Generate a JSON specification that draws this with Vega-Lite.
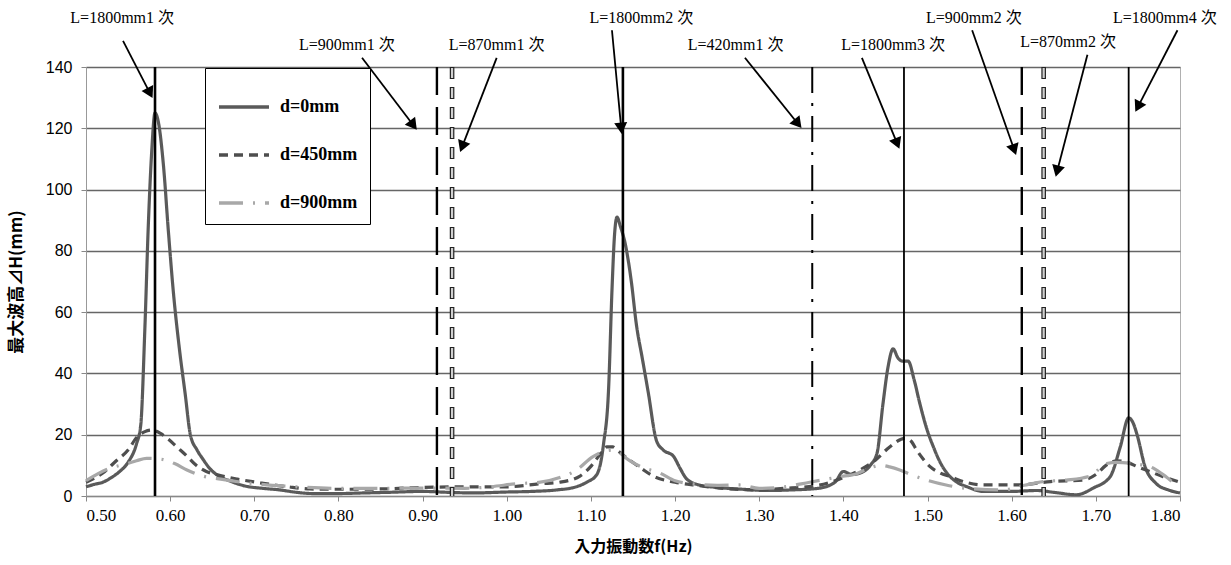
{
  "$schema": "https://vega.github.io/schema/vega-lite/v6.json",
  "width": 1094,
  "height": 429,
  "autosize": {"type": "none"},
  "padding": {"left": 86, "top": 67, "right": 51, "bottom": 69},
  "background": "white",
  "config": {
    "view": {"stroke": "#b0b0b0", "strokeWidth": 1},
    "legend": {
      "orient": "none",
      "legendX": 119,
      "legendY": 1,
      "fillColor": "white",
      "strokeColor": "black",
      "padding": 12,
      "symbolType": "stroke",
      "symbolSize": 2500,
      "symbolStrokeWidth": 3.5,
      "labelFont": "Liberation Serif",
      "labelFontSize": 18,
      "labelFontWeight": "bold",
      "labelColor": "black",
      "rowPadding": 12,
      "labelOffset": 9
    }
  },
  "datasets": {
    "curves": [
      {"f": 0.50, "h": 3.0, "s": "d=0mm"}, {"f": 0.51, "h": 3.8, "s": "d=0mm"}, {"f": 0.52, "h": 4.5, "s": "d=0mm"}, {"f": 0.53, "h": 6, "s": "d=0mm"}, {"f": 0.54, "h": 8, "s": "d=0mm"}, {"f": 0.55, "h": 11, "s": "d=0mm"}, {"f": 0.56, "h": 17, "s": "d=0mm"}, {"f": 0.565, "h": 23, "s": "d=0mm"}, {"f": 0.570, "h": 55, "s": "d=0mm"}, {"f": 0.574, "h": 88, "s": "d=0mm"}, {"f": 0.578, "h": 112, "s": "d=0mm"}, {"f": 0.582, "h": 125, "s": "d=0mm"}, {"f": 0.586, "h": 122, "s": "d=0mm"}, {"f": 0.592, "h": 108, "s": "d=0mm"}, {"f": 0.598, "h": 86, "s": "d=0mm"}, {"f": 0.604, "h": 66, "s": "d=0mm"}, {"f": 0.611, "h": 48, "s": "d=0mm"}, {"f": 0.618, "h": 33, "s": "d=0mm"}, {"f": 0.624, "h": 20, "s": "d=0mm"}, {"f": 0.632, "h": 15, "s": "d=0mm"}, {"f": 0.639, "h": 12, "s": "d=0mm"}, {"f": 0.647, "h": 9, "s": "d=0mm"}, {"f": 0.655, "h": 7, "s": "d=0mm"}, {"f": 0.67, "h": 5, "s": "d=0mm"}, {"f": 0.69, "h": 3.2, "s": "d=0mm"}, {"f": 0.71, "h": 2.5, "s": "d=0mm"}, {"f": 0.73, "h": 2, "s": "d=0mm"}, {"f": 0.75, "h": 1.2, "s": "d=0mm"}, {"f": 0.77, "h": 0.8, "s": "d=0mm"}, {"f": 0.80, "h": 0.8, "s": "d=0mm"}, {"f": 0.83, "h": 1, "s": "d=0mm"}, {"f": 0.86, "h": 1.2, "s": "d=0mm"}, {"f": 0.90, "h": 1.5, "s": "d=0mm"}, {"f": 0.93, "h": 1.2, "s": "d=0mm"}, {"f": 0.96, "h": 1.0, "s": "d=0mm"}, {"f": 1.00, "h": 1.3, "s": "d=0mm"}, {"f": 1.03, "h": 1.5, "s": "d=0mm"}, {"f": 1.06, "h": 2, "s": "d=0mm"}, {"f": 1.08, "h": 2.8, "s": "d=0mm"}, {"f": 1.095, "h": 4.5, "s": "d=0mm"}, {"f": 1.107, "h": 7, "s": "d=0mm"}, {"f": 1.115, "h": 17, "s": "d=0mm"}, {"f": 1.121, "h": 35, "s": "d=0mm"}, {"f": 1.125, "h": 67, "s": "d=0mm"}, {"f": 1.128, "h": 85, "s": "d=0mm"}, {"f": 1.131, "h": 91, "s": "d=0mm"}, {"f": 1.135, "h": 88, "s": "d=0mm"}, {"f": 1.141, "h": 82, "s": "d=0mm"}, {"f": 1.148, "h": 70, "s": "d=0mm"}, {"f": 1.154, "h": 56, "s": "d=0mm"}, {"f": 1.161, "h": 45, "s": "d=0mm"}, {"f": 1.168, "h": 34, "s": "d=0mm"}, {"f": 1.178, "h": 18, "s": "d=0mm"}, {"f": 1.186, "h": 15, "s": "d=0mm"}, {"f": 1.198, "h": 13, "s": "d=0mm"}, {"f": 1.206, "h": 9, "s": "d=0mm"}, {"f": 1.214, "h": 5.5, "s": "d=0mm"}, {"f": 1.23, "h": 3.5, "s": "d=0mm"}, {"f": 1.25, "h": 2.8, "s": "d=0mm"}, {"f": 1.28, "h": 2.2, "s": "d=0mm"}, {"f": 1.31, "h": 1.8, "s": "d=0mm"}, {"f": 1.34, "h": 2, "s": "d=0mm"}, {"f": 1.37, "h": 2.5, "s": "d=0mm"}, {"f": 1.39, "h": 4.5, "s": "d=0mm"}, {"f": 1.40, "h": 8, "s": "d=0mm"}, {"f": 1.41, "h": 7, "s": "d=0mm"}, {"f": 1.42, "h": 7.5, "s": "d=0mm"}, {"f": 1.432, "h": 10, "s": "d=0mm"}, {"f": 1.440, "h": 14, "s": "d=0mm"}, {"f": 1.447, "h": 30, "s": "d=0mm"}, {"f": 1.453, "h": 42, "s": "d=0mm"}, {"f": 1.459, "h": 48, "s": "d=0mm"}, {"f": 1.465, "h": 45, "s": "d=0mm"}, {"f": 1.470, "h": 44, "s": "d=0mm"}, {"f": 1.477, "h": 44, "s": "d=0mm"}, {"f": 1.484, "h": 38, "s": "d=0mm"}, {"f": 1.491, "h": 30, "s": "d=0mm"}, {"f": 1.499, "h": 22, "s": "d=0mm"}, {"f": 1.507, "h": 16, "s": "d=0mm"}, {"f": 1.515, "h": 11, "s": "d=0mm"}, {"f": 1.523, "h": 7.5, "s": "d=0mm"}, {"f": 1.535, "h": 4.5, "s": "d=0mm"}, {"f": 1.547, "h": 3, "s": "d=0mm"}, {"f": 1.566, "h": 1.5, "s": "d=0mm"}, {"f": 1.60, "h": 1.5, "s": "d=0mm"}, {"f": 1.63, "h": 1.8, "s": "d=0mm"}, {"f": 1.65, "h": 1.2, "s": "d=0mm"}, {"f": 1.677, "h": 0.4, "s": "d=0mm"}, {"f": 1.697, "h": 2.6, "s": "d=0mm"}, {"f": 1.717, "h": 6.3, "s": "d=0mm"}, {"f": 1.729, "h": 16, "s": "d=0mm"}, {"f": 1.739, "h": 25.5, "s": "d=0mm"}, {"f": 1.744, "h": 24, "s": "d=0mm"}, {"f": 1.749, "h": 20, "s": "d=0mm"}, {"f": 1.758, "h": 10, "s": "d=0mm"}, {"f": 1.772, "h": 4, "s": "d=0mm"}, {"f": 1.786, "h": 2, "s": "d=0mm"}, {"f": 1.80, "h": 1, "s": "d=0mm"},

      {"f": 0.50, "h": 4.5, "s": "d=450mm"}, {"f": 0.52, "h": 7.5, "s": "d=450mm"}, {"f": 0.536, "h": 11.5, "s": "d=450mm"}, {"f": 0.55, "h": 15, "s": "d=450mm"}, {"f": 0.56, "h": 19, "s": "d=450mm"}, {"f": 0.570, "h": 21, "s": "d=450mm"}, {"f": 0.578, "h": 21.5, "s": "d=450mm"}, {"f": 0.588, "h": 20.5, "s": "d=450mm"}, {"f": 0.598, "h": 18.5, "s": "d=450mm"}, {"f": 0.608, "h": 16, "s": "d=450mm"}, {"f": 0.620, "h": 13, "s": "d=450mm"}, {"f": 0.631, "h": 10, "s": "d=450mm"}, {"f": 0.643, "h": 8, "s": "d=450mm"}, {"f": 0.655, "h": 7, "s": "d=450mm"}, {"f": 0.68, "h": 5.5, "s": "d=450mm"}, {"f": 0.707, "h": 4.3, "s": "d=450mm"}, {"f": 0.74, "h": 3, "s": "d=450mm"}, {"f": 0.766, "h": 2.3, "s": "d=450mm"}, {"f": 0.80, "h": 2.2, "s": "d=450mm"}, {"f": 0.85, "h": 2.3, "s": "d=450mm"}, {"f": 0.90, "h": 2.8, "s": "d=450mm"}, {"f": 0.95, "h": 3, "s": "d=450mm"}, {"f": 1.00, "h": 3, "s": "d=450mm"}, {"f": 1.04, "h": 4, "s": "d=450mm"}, {"f": 1.063, "h": 4.5, "s": "d=450mm"}, {"f": 1.087, "h": 6.5, "s": "d=450mm"}, {"f": 1.101, "h": 10, "s": "d=450mm"}, {"f": 1.112, "h": 14, "s": "d=450mm"}, {"f": 1.119, "h": 16, "s": "d=450mm"}, {"f": 1.126, "h": 16, "s": "d=450mm"}, {"f": 1.131, "h": 15, "s": "d=450mm"}, {"f": 1.146, "h": 11.7, "s": "d=450mm"}, {"f": 1.16, "h": 9, "s": "d=450mm"}, {"f": 1.174, "h": 6.5, "s": "d=450mm"}, {"f": 1.20, "h": 4.5, "s": "d=450mm"}, {"f": 1.225, "h": 3.5, "s": "d=450mm"}, {"f": 1.253, "h": 2.6, "s": "d=450mm"}, {"f": 1.29, "h": 2, "s": "d=450mm"}, {"f": 1.33, "h": 2.5, "s": "d=450mm"}, {"f": 1.37, "h": 3.5, "s": "d=450mm"}, {"f": 1.40, "h": 6, "s": "d=450mm"}, {"f": 1.423, "h": 9, "s": "d=450mm"}, {"f": 1.438, "h": 11.7, "s": "d=450mm"}, {"f": 1.455, "h": 16, "s": "d=450mm"}, {"f": 1.473, "h": 18.8, "s": "d=450mm"}, {"f": 1.480, "h": 18, "s": "d=450mm"}, {"f": 1.487, "h": 15, "s": "d=450mm"}, {"f": 1.495, "h": 12, "s": "d=450mm"}, {"f": 1.503, "h": 9.6, "s": "d=450mm"}, {"f": 1.515, "h": 7.5, "s": "d=450mm"}, {"f": 1.527, "h": 6.3, "s": "d=450mm"}, {"f": 1.545, "h": 4.5, "s": "d=450mm"}, {"f": 1.566, "h": 3.6, "s": "d=450mm"}, {"f": 1.606, "h": 3.6, "s": "d=450mm"}, {"f": 1.646, "h": 4.7, "s": "d=450mm"}, {"f": 1.685, "h": 5.2, "s": "d=450mm"}, {"f": 1.70, "h": 7, "s": "d=450mm"}, {"f": 1.712, "h": 10, "s": "d=450mm"}, {"f": 1.725, "h": 11.5, "s": "d=450mm"}, {"f": 1.737, "h": 11, "s": "d=450mm"}, {"f": 1.75, "h": 9.5, "s": "d=450mm"}, {"f": 1.764, "h": 8, "s": "d=450mm"}, {"f": 1.78, "h": 6.3, "s": "d=450mm"}, {"f": 1.80, "h": 4.5, "s": "d=450mm"},

      {"f": 0.50, "h": 5, "s": "d=900mm"}, {"f": 0.528, "h": 9, "s": "d=900mm"}, {"f": 0.548, "h": 10.5, "s": "d=900mm"}, {"f": 0.56, "h": 11.5, "s": "d=900mm"}, {"f": 0.572, "h": 12.3, "s": "d=900mm"}, {"f": 0.585, "h": 12.2, "s": "d=900mm"}, {"f": 0.59, "h": 12, "s": "d=900mm"}, {"f": 0.606, "h": 10.5, "s": "d=900mm"}, {"f": 0.62, "h": 8.5, "s": "d=900mm"}, {"f": 0.639, "h": 6.5, "s": "d=900mm"}, {"f": 0.66, "h": 5.5, "s": "d=900mm"}, {"f": 0.70, "h": 4, "s": "d=900mm"}, {"f": 0.75, "h": 3, "s": "d=900mm"}, {"f": 0.80, "h": 2.5, "s": "d=900mm"}, {"f": 0.85, "h": 2.5, "s": "d=900mm"}, {"f": 0.90, "h": 2.6, "s": "d=900mm"}, {"f": 0.95, "h": 2.5, "s": "d=900mm"}, {"f": 0.98, "h": 3, "s": "d=900mm"}, {"f": 1.012, "h": 4, "s": "d=900mm"}, {"f": 1.04, "h": 4.5, "s": "d=900mm"}, {"f": 1.063, "h": 6, "s": "d=900mm"}, {"f": 1.083, "h": 8.5, "s": "d=900mm"}, {"f": 1.102, "h": 12.8, "s": "d=900mm"}, {"f": 1.115, "h": 14.5, "s": "d=900mm"}, {"f": 1.127, "h": 15, "s": "d=900mm"}, {"f": 1.135, "h": 14, "s": "d=900mm"}, {"f": 1.142, "h": 12.3, "s": "d=900mm"}, {"f": 1.16, "h": 9.5, "s": "d=900mm"}, {"f": 1.182, "h": 7.5, "s": "d=900mm"}, {"f": 1.20, "h": 5, "s": "d=900mm"}, {"f": 1.22, "h": 4, "s": "d=900mm"}, {"f": 1.25, "h": 3.5, "s": "d=900mm"}, {"f": 1.277, "h": 3.6, "s": "d=900mm"}, {"f": 1.30, "h": 2.5, "s": "d=900mm"}, {"f": 1.33, "h": 3, "s": "d=900mm"}, {"f": 1.36, "h": 4.5, "s": "d=900mm"}, {"f": 1.38, "h": 5.5, "s": "d=900mm"}, {"f": 1.40, "h": 6.5, "s": "d=900mm"}, {"f": 1.413, "h": 7, "s": "d=900mm"}, {"f": 1.43, "h": 9, "s": "d=900mm"}, {"f": 1.444, "h": 10, "s": "d=900mm"}, {"f": 1.455, "h": 9.5, "s": "d=900mm"}, {"f": 1.467, "h": 8.5, "s": "d=900mm"}, {"f": 1.48, "h": 7, "s": "d=900mm"}, {"f": 1.499, "h": 5.2, "s": "d=900mm"}, {"f": 1.522, "h": 3.6, "s": "d=900mm"}, {"f": 1.547, "h": 2.5, "s": "d=900mm"}, {"f": 1.59, "h": 2, "s": "d=900mm"}, {"f": 1.615, "h": 3.5, "s": "d=900mm"}, {"f": 1.637, "h": 4.7, "s": "d=900mm"}, {"f": 1.665, "h": 5.2, "s": "d=900mm"}, {"f": 1.693, "h": 6.5, "s": "d=900mm"}, {"f": 1.713, "h": 10.6, "s": "d=900mm"}, {"f": 1.725, "h": 11, "s": "d=900mm"}, {"f": 1.745, "h": 10.5, "s": "d=900mm"}, {"f": 1.764, "h": 9.6, "s": "d=900mm"}, {"f": 1.78, "h": 7, "s": "d=900mm"}, {"f": 1.795, "h": 4, "s": "d=900mm"}, {"f": 1.80, "h": 3.6, "s": "d=900mm"}
    ],
    "modes": [
      {"f": 0.582, "kind": "1800a"},
      {"f": 1.138, "kind": "1800a"},
      {"f": 1.472, "kind": "1800b"},
      {"f": 1.739, "kind": "1800b"},
      {"f": 0.917, "kind": "900"},
      {"f": 1.612, "kind": "900"},
      {"f": 0.935, "kind": "870"},
      {"f": 1.638, "kind": "870"},
      {"f": 1.363, "kind": "420"}
    ],
    "notes": [
      {"label": "L=1800mm1 次", "lx": 0.543, "ly": 156, "x1": 0.544, "y1": 148.5, "x2": 0.576, "y2": 131.5},
      {"label": "L=900mm1 次", "lx": 0.810, "ly": 147.2, "x1": 0.828, "y1": 143, "x2": 0.889, "y2": 121},
      {"label": "L=870mm1 次", "lx": 0.988, "ly": 147.2, "x1": 0.988, "y1": 143, "x2": 0.947, "y2": 114},
      {"label": "L=1800mm2 次", "lx": 1.160, "ly": 156, "x1": 1.125, "y1": 152, "x2": 1.136, "y2": 120},
      {"label": "L=420mm1 次", "lx": 1.272, "ly": 147.2, "x1": 1.283, "y1": 143, "x2": 1.346, "y2": 121.5},
      {"label": "L=1800mm3 次", "lx": 1.459, "ly": 147.2, "x1": 1.422, "y1": 143, "x2": 1.464, "y2": 115},
      {"label": "L=900mm2 次", "lx": 1.555, "ly": 156, "x1": 1.553, "y1": 152, "x2": 1.603, "y2": 113},
      {"label": "L=870mm2 次", "lx": 1.667, "ly": 148.2, "x1": 1.690, "y1": 144, "x2": 1.654, "y2": 106},
      {"label": "L=1800mm4 次", "lx": 1.782, "ly": 156, "x1": 1.797, "y1": 152, "x2": 1.750, "y2": 127}
    ]
  },
  "layer": [
    {
      "data": {"name": "curves"},
      "mark": {"type": "line", "strokeWidth": 3.2, "interpolate": "monotone"},
      "encoding": {
        "x": {
          "field": "f", "type": "quantitative",
          "scale": {"domain": [0.5, 1.8], "nice": false, "zero": false},
          "axis": {
            "title": "入力振動数f(Hz)",
            "values": [0.5, 0.6, 0.7, 0.8, 0.9, 1.0, 1.1, 1.2, 1.3, 1.4, 1.5, 1.6, 1.7, 1.8],
            "format": ".2f",
            "grid": false,
            "domainColor": "#888",
            "tickColor": "#888",
            "tickSize": 5,
            "labelFont": "Liberation Sans Narrow",
            "labelFontSize": 17,
            "labelColor": "black",
            "labelPadding": 6,
            "titleFont": "Noto Sans CJK JP",
            "titleFontSize": 16,
            "titleFontWeight": "bold",
            "titleColor": "black",
            "titlePadding": 15
          }
        },
        "y": {
          "field": "h", "type": "quantitative",
          "scale": {"domain": [0, 140], "nice": false},
          "axis": {
            "title": "最大波高⊿H(mm)",
            "values": [0, 20, 40, 60, 80, 100, 120, 140],
            "grid": true,
            "gridColor": "#666",
            "gridWidth": 1.4,
            "domainColor": "#999",
            "tickColor": "#888",
            "tickSize": 5,
            "labelFont": "Liberation Sans",
            "labelFontSize": 16,
            "labelColor": "black",
            "labelPadding": 9,
            "titleFont": "Noto Sans CJK JP",
            "titleFontSize": 17,
            "titleFontWeight": "bold",
            "titleColor": "black",
            "titlePadding": 20
          }
        },
        "color": {
          "field": "s", "type": "nominal",
          "scale": {"domain": ["d=0mm", "d=450mm", "d=900mm"], "range": ["#5a5a5a", "#4e4e4e", "#a8a8a8"]},
          "legend": {"title": null}
        },
        "strokeDash": {
          "field": "s", "type": "nominal",
          "scale": {"domain": ["d=0mm", "d=450mm", "d=900mm"], "range": [[1, 0], [9, 6], [24, 10, 2, 10]]},
          "legend": {"title": null}
        }
      }
    },
    {
      "data": {"name": "modes"},
      "transform": [{"filter": "datum.kind === '1800a'"}],
      "mark": {"type": "rule", "color": "black", "strokeWidth": 2.6},
      "encoding": {"x": {"field": "f", "type": "quantitative"}, "y": {"datum": 0}, "y2": {"datum": 140}}
    },
    {
      "data": {"name": "modes"},
      "transform": [{"filter": "datum.kind === '1800b'"}],
      "mark": {"type": "rule", "color": "black", "strokeWidth": 1.8},
      "encoding": {"x": {"field": "f", "type": "quantitative"}, "y": {"datum": 0}, "y2": {"datum": 140}}
    },
    {
      "data": {"name": "modes"},
      "transform": [{"filter": "datum.kind === '900'"}],
      "mark": {"type": "rule", "color": "black", "strokeWidth": 2.4, "strokeDash": [28, 12]},
      "encoding": {"x": {"field": "f", "type": "quantitative"}, "y": {"datum": 140}, "y2": {"datum": 0}}
    },
    {
      "data": {"name": "modes"},
      "transform": [{"filter": "datum.kind === '420'"}],
      "mark": {"type": "rule", "color": "black", "strokeWidth": 2, "strokeDash": [26, 10, 3, 10]},
      "encoding": {"x": {"field": "f", "type": "quantitative"}, "y": {"datum": 140}, "y2": {"datum": 0}}
    },
    {
      "data": {"name": "modes"},
      "transform": [{"filter": "datum.kind === '870'"}],
      "mark": {"type": "rule", "color": "#222", "strokeWidth": 4.6, "strokeDash": [12, 8]},
      "encoding": {"x": {"field": "f", "type": "quantitative"}, "y": {"datum": 140}, "y2": {"datum": 0}}
    },
    {
      "data": {"name": "modes"},
      "transform": [{"filter": "datum.kind === '870'"}],
      "mark": {"type": "rule", "color": "#d0d0d0", "strokeWidth": 2.2, "strokeDash": [10, 10], "strokeDashOffset": -1},
      "encoding": {"x": {"field": "f", "type": "quantitative"}, "y": {"datum": 140}, "y2": {"datum": 0}}
    },
    {
      "data": {"name": "notes"},
      "mark": {"type": "rule", "color": "black", "strokeWidth": 1.8},
      "encoding": {
        "x": {"field": "x1", "type": "quantitative"},
        "y": {"field": "y1", "type": "quantitative"},
        "x2": {"field": "x2"},
        "y2": {"field": "y2"}
      }
    },
    {
      "data": {"name": "notes"},
      "transform": [{"calculate": "atan2((datum.x2 - datum.x1) * 841.5, (datum.y2 - datum.y1) * 3.064) * 180 / PI", "as": "ang"}],
      "mark": {"type": "point", "shape": "triangle-up", "filled": true, "color": "black", "size": 170, "opacity": 1},
      "encoding": {
        "x": {"field": "x2", "type": "quantitative"},
        "y": {"field": "y2", "type": "quantitative"},
        "angle": {"field": "ang", "type": "quantitative", "scale": null}
      }
    },
    {
      "data": {"name": "notes"},
      "mark": {"type": "text", "font": "'Liberation Serif', 'Noto Sans CJK JP', serif", "fontSize": 16, "color": "black", "align": "center", "baseline": "middle"},
      "encoding": {
        "x": {"field": "lx", "type": "quantitative"},
        "y": {"field": "ly", "type": "quantitative"},
        "text": {"field": "label"}
      }
    }
  ]
}
